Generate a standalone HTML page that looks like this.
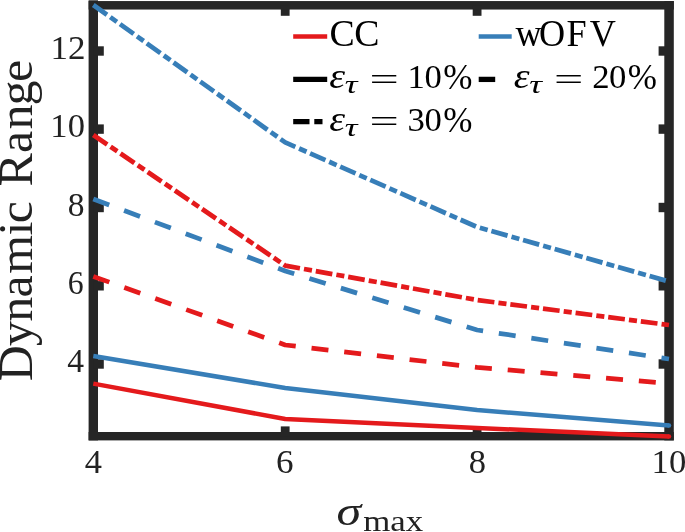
<!DOCTYPE html>
<html><head><meta charset="utf-8"><title>Dynamic Range</title>
<style>
html,body{margin:0;padding:0;background:#fff;}
svg{display:block;}
text{font-family:"Liberation Serif",serif;fill:#222;font-kerning:none;}
.lg{fill:#000;}
</style></head><body>
<svg width="685" height="532" viewBox="0 0 685 532">
<rect x="0" y="0" width="685" height="532" fill="#fff"/>
<rect x="88.6" y="0.3" width="9.4" height="440.1" fill="#262626"/>
<rect x="664.3" y="1" width="9.5" height="439.4" fill="#262626"/>
<rect x="88.6" y="1.05" width="585.2" height="8.5" fill="#262626"/>
<rect x="88.6" y="432" width="585.2" height="8.4" fill="#262626"/>
<rect x="93.3" y="46.3" width="10.5" height="9.4" fill="#262626"/>
<rect x="658.6" y="46.3" width="10.5" height="9.4" fill="#262626"/>
<rect x="93.3" y="124.39999999999999" width="10.5" height="9.4" fill="#262626"/>
<rect x="658.6" y="124.39999999999999" width="10.5" height="9.4" fill="#262626"/>
<rect x="93.3" y="202.8" width="10.5" height="9.4" fill="#262626"/>
<rect x="658.6" y="202.8" width="10.5" height="9.4" fill="#262626"/>
<rect x="93.3" y="281.1" width="10.5" height="9.4" fill="#262626"/>
<rect x="658.6" y="281.1" width="10.5" height="9.4" fill="#262626"/>
<rect x="93.3" y="359.3" width="10.5" height="9.4" fill="#262626"/>
<rect x="658.6" y="359.3" width="10.5" height="9.4" fill="#262626"/>
<rect x="280.8" y="426.4" width="8.8" height="9.8" fill="#262626"/>
<rect x="280.8" y="5.3" width="8.8" height="10.5" fill="#262626"/>
<rect x="472.70000000000005" y="426.4" width="8.8" height="9.8" fill="#262626"/>
<rect x="472.70000000000005" y="5.3" width="8.8" height="10.5" fill="#262626"/>
<polyline points="93.3,5 285.2,142.4 477.1,227 669.0,281.5" fill="none" stroke="#377eb8" stroke-width="4.75" stroke-linejoin="round" stroke-dasharray="16.8 4.1 8.1 3.9"/>
<polyline points="93.3,199 285.2,271 477.1,330 669.0,359" fill="none" stroke="#377eb8" stroke-width="4.75" stroke-linejoin="round" stroke-dasharray="17 15.9"/>
<polyline points="93.3,356 285.2,388 477.1,410 669.0,425.5" fill="none" stroke="#377eb8" stroke-width="4.5" stroke-linejoin="round"/>
<circle cx="669.0" cy="425.5" r="2.25" fill="#377eb8"/>
<polyline points="93.3,135 285.2,265.6 477.1,300 669.0,325" fill="none" stroke="#e41a1c" stroke-width="4.75" stroke-linejoin="round" stroke-dasharray="16.8 4.1 8.1 3.9"/>
<polyline points="93.3,276.4 285.2,345 477.1,367.4 669.0,383.4" fill="none" stroke="#e41a1c" stroke-width="4.75" stroke-linejoin="round" stroke-dasharray="17 15.9"/>
<polyline points="93.3,383.6 285.2,419 477.1,428 669.0,436.4" fill="none" stroke="#e41a1c" stroke-width="4.5" stroke-linejoin="round"/>
<circle cx="669.0" cy="436.4" r="2.25" fill="#e41a1c"/>
<text transform="translate(50.42,59.3) scale(1.0609,1.0)" style="font-size:33px;">12</text>
<text transform="translate(50.36,137.4) scale(1.0471,1.0)" style="font-size:33px;">10</text>
<text transform="translate(67.72,215.8) scale(1.0153,1.0)" style="font-size:33px;">8</text>
<text transform="translate(67.63,294.1) scale(0.9646,1.0)" style="font-size:33px;">6</text>
<text transform="translate(67.34,372.3) scale(1.0170,1.0)" style="font-size:33px;">4</text>
<text transform="translate(84.73,473.4) scale(1.0430,1.0)" style="font-size:33px;">4</text>
<text transform="translate(276.09,473.4) scale(1.0639,1.0)" style="font-size:33px;">6</text>
<text transform="translate(468.69,473.4) scale(1.0439,1.0)" style="font-size:33px;">8</text>
<text transform="translate(651.55,473.4) scale(1.0505,1.0)" style="font-size:33px;">10</text>
<text transform="translate(32.0,379.8) rotate(-90) scale(1.05,1)" x="-1.37 32.09 55.39 78.33 100.91 137.38 149.14 169.14 184.06 215.95 238.43 261.29 283.67" style="font-size:47.5px">Dynamic Range</text>
<text transform="translate(336.51,524.6) scale(1.2522,1.0)" style="font-size:40px;font-style:italic;">σ</text>
<text transform="translate(363.17,530.9) scale(1.1608,1.0)" style="font-size:30px;">max</text>
<line x1="293.2" y1="36.4" x2="327.2" y2="36.4" stroke="#e41a1c" stroke-width="4.5"/>
<line x1="478.7" y1="36.4" x2="511.7" y2="36.4" stroke="#377eb8" stroke-width="4.5"/>
<line x1="293.2" y1="79.4" x2="327.2" y2="79.4" stroke="#000" stroke-width="5.3"/>
<line x1="478.7" y1="79.4" x2="512.7" y2="79.4" stroke="#000" stroke-width="5.3" stroke-dasharray="16.5 17.5"/>
<line x1="293.2" y1="121.7" x2="327.2" y2="121.7" stroke="#000" stroke-width="5.3" stroke-dasharray="16.3 4.8 8.2 4.8"/>
<text class="lg" transform="translate(0,45.75) scale(1.0,1)" x="329.45 354.25" style="font-size:37.8px">CC</text>
<text class="lg" transform="translate(0,45.5) scale(0.97,1)" x="531.41 555.79 583.98 608.03" style="font-size:37.3px">wOFV</text>
<text class="lg" transform="translate(329.14,88.3) scale(1.1457,1.0)" style="font-size:35px;font-style:italic;">ε</text>
<text class="lg" transform="translate(344.72,93.2) scale(1.4199,1.0)" style="font-size:25px;font-style:italic;">τ</text>
<text class="lg" transform="translate(369.51,89.5) scale(1.5296,0.9)" style="font-size:34px;">=</text>
<text class="lg" transform="translate(0,88.3) scale(1.0,1)" x="407.45 424.48" style="font-size:34.7px">10<tspan x="443.20" dy="1.0" style="font-size:35px">%</tspan></text>
<text class="lg" transform="translate(513.74,88.3) scale(1.1457,1.0)" style="font-size:35px;font-style:italic;">ε</text>
<text class="lg" transform="translate(529.32,93.2) scale(1.4199,1.0)" style="font-size:25px;font-style:italic;">τ</text>
<text class="lg" transform="translate(554.11,89.5) scale(1.5296,0.9)" style="font-size:34px;">=</text>
<text class="lg" transform="translate(0,88.3) scale(1.0,1)" x="592.28 609.08" style="font-size:34.7px">20<tspan x="627.80" dy="1.0" style="font-size:35px">%</tspan></text>
<text class="lg" transform="translate(329.14,130.8) scale(1.1457,1.0)" style="font-size:35px;font-style:italic;">ε</text>
<text class="lg" transform="translate(344.72,135.70000000000002) scale(1.4199,1.0)" style="font-size:25px;font-style:italic;">τ</text>
<text class="lg" transform="translate(369.51,132.0) scale(1.5296,0.9)" style="font-size:34px;">=</text>
<text class="lg" transform="translate(0,130.8) scale(1.0,1)" x="407.54 424.48" style="font-size:34.7px">30<tspan x="443.20" dy="1.0" style="font-size:35px">%</tspan></text>
</svg>
</body></html>
